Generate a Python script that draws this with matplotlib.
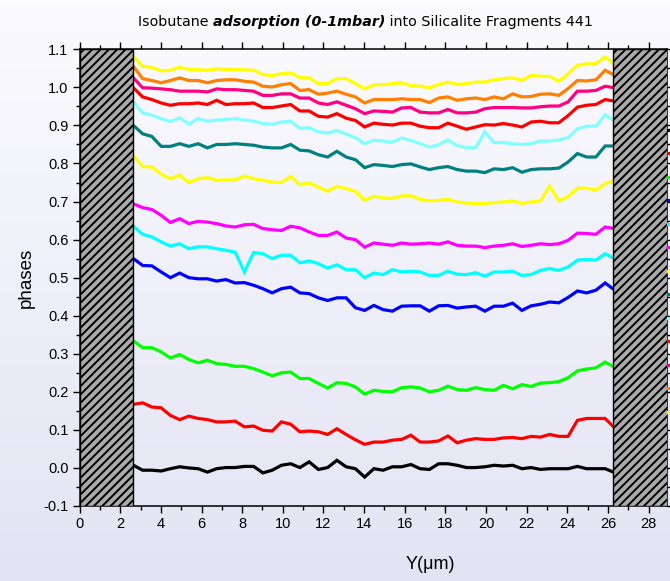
"""Phase profiles across a silicalite fragment during isobutane uptake."""

import matplotlib
matplotlib.use("Agg")
import matplotlib.pyplot as plt
from matplotlib.ticker import MultipleLocator
import numpy as np

# sampling along the crystal, in micrometres
Y_START = 2.65
Y_STEP = 0.455

# one profile per pressure step, bottom to top
phase_black = [0.007, -0.006, -0.006, -0.008, -0.002, 0.003, 0.000, -0.002, -0.011, -0.002,
               0.001, 0.001, 0.004, 0.004, -0.013, -0.006, 0.007, 0.011, 0.001, 0.016,
               -0.004, 0.001, 0.020, 0.003, -0.002, -0.024, -0.002, -0.006, 0.003, 0.003,
               0.009, -0.002, -0.004, 0.011, 0.011, 0.007, 0.001, 0.001, 0.003, 0.007,
               0.005, 0.007, -0.002, 0.001, -0.004, -0.002, -0.002, -0.002, 0.004, -0.002,
               -0.002, -0.002, -0.012]
phase_red1 = [0.167, 0.171, 0.160, 0.158, 0.138, 0.127, 0.136, 0.130, 0.127, 0.121,
              0.121, 0.123, 0.108, 0.110, 0.099, 0.097, 0.121, 0.115, 0.095, 0.097,
              0.095, 0.088, 0.103, 0.088, 0.074, 0.062, 0.068, 0.068, 0.073, 0.075,
              0.086, 0.068, 0.068, 0.071, 0.084, 0.066, 0.073, 0.077, 0.075, 0.075,
              0.079, 0.080, 0.077, 0.083, 0.081, 0.088, 0.083, 0.083, 0.125, 0.130,
              0.130, 0.130, 0.106]
phase_green = [0.334, 0.316, 0.316, 0.305, 0.289, 0.298, 0.285, 0.276, 0.283, 0.274,
               0.272, 0.267, 0.267, 0.261, 0.252, 0.242, 0.250, 0.252, 0.235, 0.235,
               0.222, 0.210, 0.224, 0.222, 0.213, 0.194, 0.204, 0.201, 0.200, 0.211,
               0.213, 0.210, 0.200, 0.204, 0.215, 0.206, 0.204, 0.211, 0.206, 0.204,
               0.217, 0.208, 0.219, 0.214, 0.223, 0.224, 0.227, 0.237, 0.255, 0.260,
               0.263, 0.278, 0.265]
phase_blue = [0.550, 0.532, 0.531, 0.515, 0.500, 0.512, 0.500, 0.497, 0.497, 0.491,
              0.495, 0.486, 0.487, 0.480, 0.471, 0.460, 0.471, 0.475, 0.460, 0.458,
              0.447, 0.440, 0.447, 0.447, 0.421, 0.414, 0.427, 0.416, 0.412, 0.425,
              0.426, 0.426, 0.412, 0.426, 0.427, 0.420, 0.423, 0.425, 0.412, 0.425,
              0.425, 0.433, 0.414, 0.426, 0.430, 0.436, 0.434, 0.448, 0.465, 0.460,
              0.467, 0.486, 0.468]
phase_cyan = [0.635, 0.614, 0.607, 0.594, 0.583, 0.589, 0.576, 0.581, 0.581, 0.576,
              0.572, 0.567, 0.515, 0.566, 0.563, 0.550, 0.559, 0.559, 0.539, 0.544,
              0.537, 0.525, 0.534, 0.521, 0.521, 0.500, 0.512, 0.508, 0.521, 0.515,
              0.517, 0.515, 0.506, 0.506, 0.517, 0.509, 0.508, 0.513, 0.504, 0.515,
              0.515, 0.517, 0.506, 0.508, 0.519, 0.524, 0.519, 0.528, 0.546, 0.548,
              0.546, 0.563, 0.550]
phase_magenta = [0.694, 0.684, 0.679, 0.664, 0.645, 0.655, 0.642, 0.648, 0.646, 0.642,
                 0.636, 0.633, 0.639, 0.640, 0.629, 0.626, 0.624, 0.635, 0.631, 0.620,
                 0.611, 0.611, 0.620, 0.604, 0.600, 0.580, 0.591, 0.588, 0.585, 0.591,
                 0.588, 0.589, 0.591, 0.588, 0.594, 0.585, 0.583, 0.583, 0.579, 0.583,
                 0.585, 0.589, 0.582, 0.585, 0.589, 0.587, 0.589, 0.598, 0.617, 0.616,
                 0.614, 0.633, 0.629]
phase_yellow1 = [0.821, 0.792, 0.791, 0.772, 0.760, 0.769, 0.750, 0.760, 0.763, 0.756,
                 0.757, 0.757, 0.767, 0.760, 0.756, 0.751, 0.750, 0.766, 0.744, 0.749,
                 0.738, 0.727, 0.740, 0.734, 0.727, 0.703, 0.714, 0.710, 0.708, 0.715,
                 0.715, 0.706, 0.702, 0.703, 0.706, 0.699, 0.696, 0.695, 0.695, 0.697,
                 0.699, 0.702, 0.695, 0.699, 0.702, 0.741, 0.702, 0.713, 0.735, 0.735,
                 0.730, 0.747, 0.756]
phase_teal = [0.900, 0.878, 0.871, 0.845, 0.845, 0.852, 0.845, 0.852, 0.841, 0.850,
              0.850, 0.852, 0.850, 0.848, 0.843, 0.841, 0.841, 0.850, 0.835, 0.833,
              0.823, 0.817, 0.832, 0.817, 0.810, 0.789, 0.797, 0.795, 0.792, 0.797,
              0.799, 0.791, 0.784, 0.789, 0.792, 0.784, 0.780, 0.780, 0.776, 0.786,
              0.784, 0.789, 0.777, 0.784, 0.786, 0.786, 0.788, 0.804, 0.826, 0.817,
              0.817, 0.846, 0.846]
phase_lightcyan = [0.962, 0.933, 0.927, 0.918, 0.910, 0.920, 0.903, 0.918, 0.911, 0.914,
                   0.916, 0.918, 0.914, 0.911, 0.905, 0.903, 0.909, 0.911, 0.892, 0.894,
                   0.883, 0.880, 0.887, 0.877, 0.868, 0.852, 0.861, 0.859, 0.856, 0.867,
                   0.861, 0.852, 0.843, 0.849, 0.862, 0.847, 0.842, 0.842, 0.883, 0.855,
                   0.855, 0.852, 0.850, 0.852, 0.859, 0.859, 0.862, 0.868, 0.891, 0.898,
                   0.898, 0.928, 0.912]
phase_red2 = [0.999, 0.975, 0.968, 0.959, 0.953, 0.957, 0.957, 0.959, 0.955, 0.966,
              0.955, 0.957, 0.957, 0.959, 0.947, 0.947, 0.951, 0.955, 0.938, 0.938,
              0.924, 0.922, 0.931, 0.919, 0.913, 0.896, 0.906, 0.903, 0.901, 0.906,
              0.906, 0.898, 0.894, 0.894, 0.906, 0.898, 0.890, 0.896, 0.902, 0.901,
              0.905, 0.901, 0.896, 0.909, 0.911, 0.907, 0.907, 0.926, 0.948, 0.953,
              0.955, 0.968, 0.964]
phase_pink = [1.025, 0.999, 0.998, 0.996, 0.994, 0.990, 0.990, 0.990, 0.988, 0.996,
              0.994, 0.994, 0.992, 0.990, 0.979, 0.979, 0.983, 0.983, 0.972, 0.972,
              0.959, 0.955, 0.962, 0.953, 0.944, 0.931, 0.938, 0.937, 0.935, 0.946,
              0.947, 0.935, 0.933, 0.933, 0.942, 0.933, 0.933, 0.935, 0.944, 0.947,
              0.947, 0.947, 0.946, 0.946, 0.949, 0.951, 0.951, 0.962, 0.990, 0.990,
              0.992, 1.003, 0.999]
phase_orange = [1.055, 1.023, 1.018, 1.012, 1.018, 1.025, 1.018, 1.018, 1.012, 1.018,
                1.020, 1.020, 1.016, 1.014, 1.003, 1.001, 1.007, 1.010, 0.992, 0.994,
                0.982, 0.985, 0.990, 0.982, 0.975, 0.959, 0.968, 0.968, 0.968, 0.970,
                0.968, 0.968, 0.960, 0.972, 0.975, 0.966, 0.970, 0.972, 0.968, 0.975,
                0.970, 0.983, 0.975, 0.976, 0.982, 0.983, 0.979, 0.997, 1.018, 1.017,
                1.020, 1.045, 1.032]
phase_yellow2 = [1.081, 1.055, 1.053, 1.043, 1.045, 1.053, 1.047, 1.047, 1.045, 1.049,
                 1.047, 1.047, 1.046, 1.045, 1.034, 1.031, 1.036, 1.038, 1.026, 1.025,
                 1.010, 1.010, 1.023, 1.023, 1.010, 0.996, 1.007, 1.007, 1.010, 1.012,
                 1.005, 1.003, 0.999, 1.008, 1.014, 1.008, 1.010, 1.014, 1.014, 1.020,
                 1.023, 1.025, 1.018, 1.032, 1.029, 1.029, 1.016, 1.036, 1.058, 1.062,
                 1.062, 1.080, 1.062]

profiles = [phase_black, phase_red1, phase_green, phase_blue, phase_cyan, phase_magenta,
            phase_yellow1, phase_teal, phase_lightcyan, phase_red2, phase_pink,
            phase_orange, phase_yellow2]
colors = ["#000000", "#ff0000", "#00ff00", "#0000ff", "#00ffff", "#ff00ff",
          "#ffff00", "#008080", "#80ffff", "#ff0000", "#ff0080", "#ff8000", "#ffff00"]

# crystal edges (outside of the fragment) in micrometres
left_edge = (0.0, 2.61)
right_edge = (26.23, 29.0)


def main() -> None:
    plt.rcParams["font.family"] = ["Liberation Sans", "DejaVu Sans"]
    plt.rcParams["hatch.linewidth"] = 1.4

    fig = plt.figure(figsize=(6.7, 5.81), dpi=100)

    # soft lavender backdrop over the whole canvas
    bg = fig.add_axes([0, 0, 1, 1], zorder=-10)
    grad = np.linspace(0, 1, 256).reshape(-1, 1)
    top = np.array([0.985, 0.985, 0.997])
    bottom = np.array([0.89, 0.89, 0.955])
    img = top + (bottom - top) * grad[..., None]
    bg.imshow(img, aspect="auto", extent=[0, 1, 0, 1])
    bg.set_axis_off()

    ax = fig.add_axes([0.1187, 0.1291, 0.8769, 0.786])
    ax.set_facecolor("none")

    n = len(phase_black)
    y_um = Y_START + Y_STEP * np.arange(n)

    lines = []
    for vals, c in zip(profiles, colors):
        (ln,) = ax.plot(y_um, vals, color=c, lw=2.3, solid_joinstyle="miter")
        lines.append(ln)

    for lo, hi in (left_edge, right_edge):
        ax.axvspan(lo, hi, facecolor="#aaaaaa", edgecolor="black", hatch="////",
                   lw=1.0, zorder=3)

    ax.set_xlim(0, 28.9)
    ax.set_ylim(-0.1, 1.1)
    ax.xaxis.set_major_locator(MultipleLocator(2))
    ax.xaxis.set_minor_locator(MultipleLocator(1))
    ax.yaxis.set_major_locator(MultipleLocator(0.1))
    ax.yaxis.set_minor_locator(MultipleLocator(0.05))
    ax.yaxis.set_major_formatter(lambda v, pos: f"{v:.1f}")
    ax.tick_params(which="both", direction="out", top=True, right=True, width=1.0,
                   labelsize=10.5, pad=3)
    ax.tick_params(which="major", length=5)
    ax.tick_params(which="minor", length=3)
    for sp in ax.spines.values():
        sp.set_linewidth(1.1)

    ax.set_ylabel("phases", fontsize=13.5, labelpad=6)
    ax.set_xlabel("Y(\u03bcm)", fontsize=13)
    ax.xaxis.set_label_coords(0.598, -0.11)

    # clipped legend strip along the right border
    ax.legend(lines, [" "] * len(lines), loc="upper left", bbox_to_anchor=(1.002, 0.8375),
              frameon=False, borderpad=0, borderaxespad=0, handlelength=1.5,
              fontsize=12, labelspacing=0.51)

    # title with the emphasised middle part
    t1 = fig.text(0.206, 0.955, "Isobutane ", fontsize=10.3, family="DejaVu Sans",
                  va="baseline")
    t2 = ax.annotate("adsorption (0-1mbar)", xy=(1, 0), xycoords=t1, va="bottom",
                     fontsize=10.3, family="DejaVu Sans", weight="bold", style="italic")
    ax.annotate(" into Silicalite Fragments 441", xy=(1, 0), xycoords=t2, va="bottom",
                fontsize=10.3, family="DejaVu Sans")

    fig.savefig("out.png", dpi=100)


if __name__ == "__main__":
    main()
